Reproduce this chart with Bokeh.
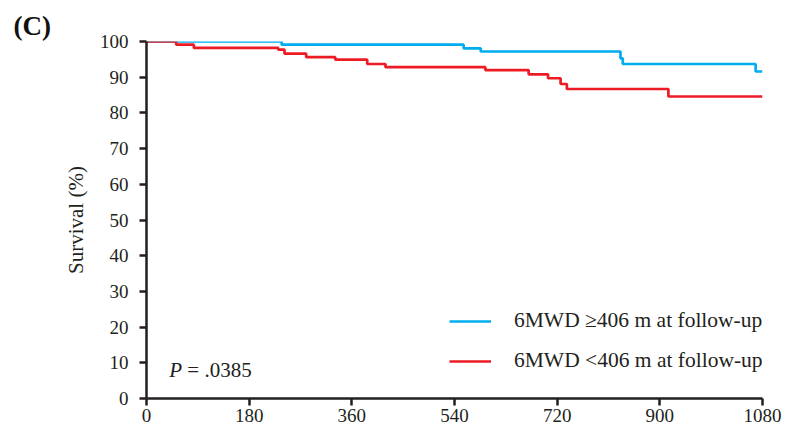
from bokeh.plotting import figure
from bokeh.models import Range1d, Legend, LegendItem, Label, FixedTicker
from bokeh.embed import file_html
from bokeh.resources import INLINE

# Data
blue_days = [0, 237, 556, 586, 831, 835, 1068, 1080]
blue_surv = [100, 99.1, 98.1, 97.2, 95.3, 93.7, 91.6, 91.6]
red_days = [0, 52, 83, 231, 242, 280, 331, 387, 419, 594, 670, 704, 726, 737, 915, 1080]
red_surv = [100, 99.1, 98.2, 97.7, 96.6, 95.6, 94.9, 93.7, 92.8, 92.0, 90.8, 89.7, 88.1, 86.7, 84.6, 84.6]
x_ticks = [0, 180, 360, 540, 720, 900, 1080]
y_ticks = [0, 10, 20, 30, 40, 50, 60, 70, 80, 90, 100]
blue_label = "6MWD \u2265406 m at follow-up"
red_label = "6MWD <406 m at follow-up"
p_text = "= .0385"

FONT = "Liberation Serif"
INK = "#231f20"
BLUE = "#00aeef"
RED = "#ed1c24"

p = figure(frame_width=616, frame_height=357, output_backend="svg", toolbar_location=None,
           x_range=Range1d(0, 1080), y_range=Range1d(0, 100),
           min_border_left=146, min_border_top=41, min_border_right=25, min_border_bottom=30)
p.outline_line_color = None
p.grid.visible = False
p.background_fill_color = "white"

p.title.text = "(C)"
p.title.text_font = FONT
p.title.text_font_size = "27px"
p.title.text_font_style = "bold"
p.title.text_color = "#111111"
p.title.align = "left"
p.title.offset = -133
p.title.standoff = 2

rb = p.step(blue_days, blue_surv, mode="after", line_color=BLUE, line_width=2.7)
rr = p.step(red_days, red_surv, mode="after", line_color=RED, line_width=2.7)

for ax in (p.xaxis[0], p.yaxis[0]):
    ax.axis_line_color = INK
    ax.axis_line_width = 2.5
    ax.major_tick_line_color = INK
    ax.major_tick_line_width = 2.5
    ax.major_tick_out = 7
    ax.major_tick_in = 0
    ax.minor_tick_line_color = None
    ax.major_label_text_font = FONT
    ax.major_label_text_font_size = "19px"
    ax.major_label_text_color = INK
    ax.axis_label_text_font = FONT
    ax.axis_label_text_font_size = "21px"
    ax.axis_label_text_font_style = "normal"
    ax.axis_label_text_color = INK

p.xaxis.ticker = FixedTicker(ticks=x_ticks)
p.yaxis.ticker = FixedTicker(ticks=y_ticks)
p.xaxis.major_label_standoff = 3
p.yaxis.major_label_standoff = 11
p.yaxis.axis_label = "Survival (%)"
p.yaxis.axis_label_standoff = 9

legend = Legend(items=[LegendItem(label=blue_label, renderers=[rb]),
                       LegendItem(label=red_label, renderers=[rr])],
                location=(303, 25), orientation="vertical")
legend.label_text_font = FONT
legend.label_text_font_size = "21.5px"
legend.label_text_color = INK
legend.glyph_width = 42
legend.glyph_height = 22
legend.label_height = 22
legend.spacing = 15
legend.label_standoff = 23
legend.padding = 0
legend.margin = 0
legend.border_line_color = None
legend.background_fill_alpha = 0
p.add_layout(legend, "center")

p.add_layout(Label(x=40, y=7.9, text="P", text_font=FONT, text_font_size="21px",
                   text_font_style="italic", text_color=INK, text_baseline="middle"))
p.add_layout(Label(x=40, y=7.9, x_offset=18, text=p_text, text_font=FONT, text_font_size="21px",
                   text_color=INK, text_baseline="middle"))

open("out.html", "w").write(file_html(p, INLINE))
